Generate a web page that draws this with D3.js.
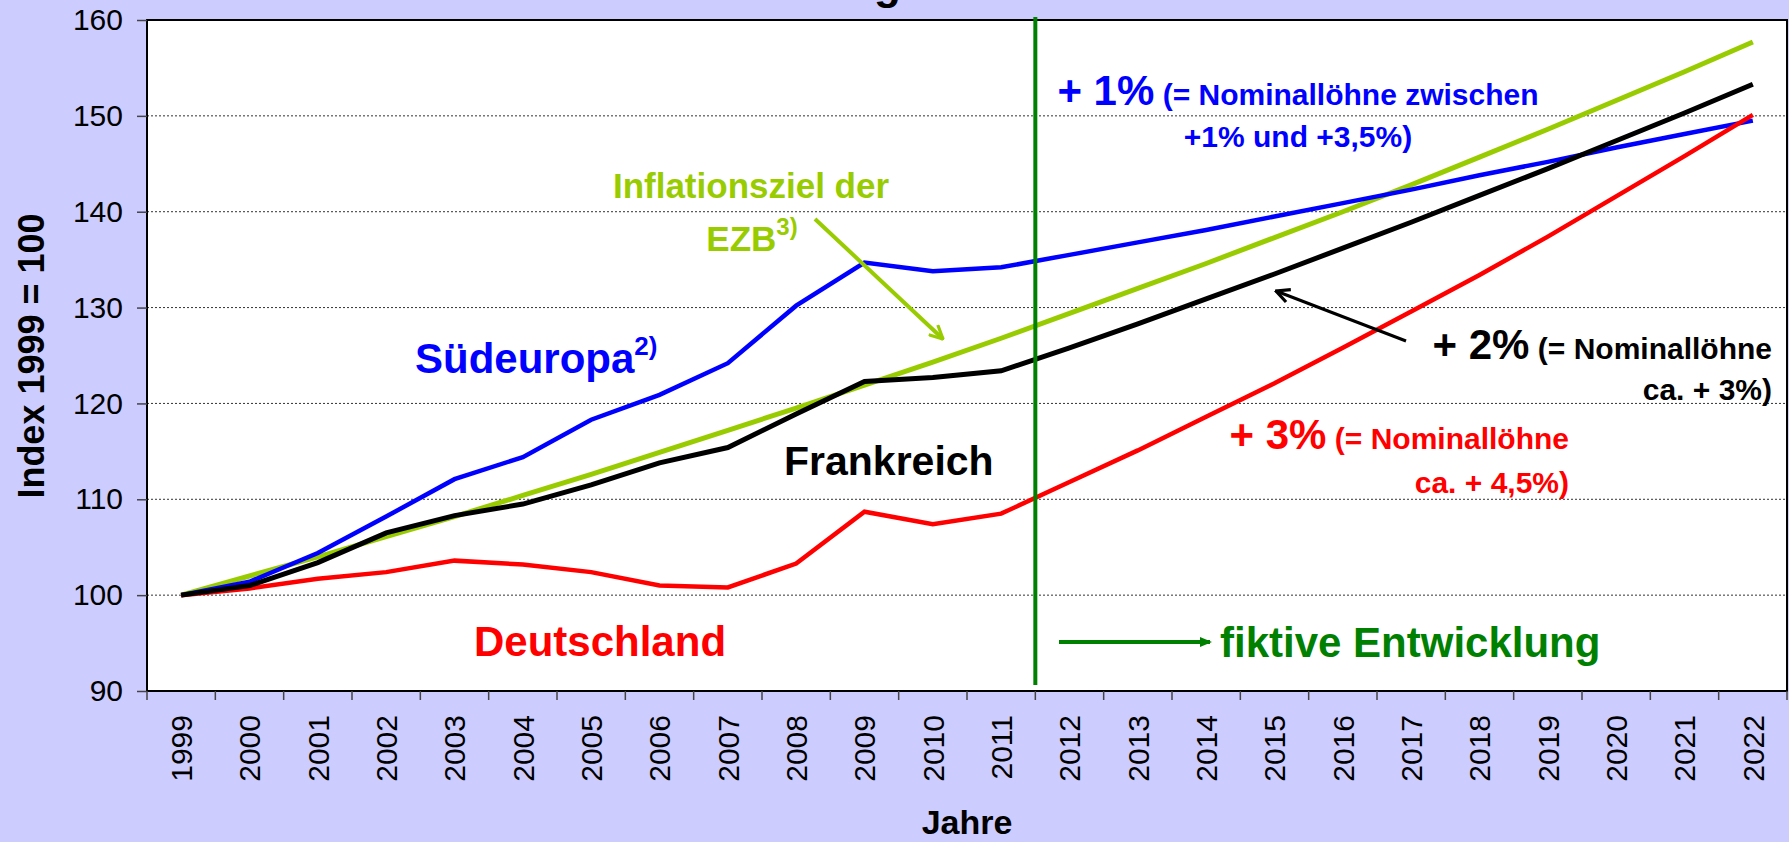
<!DOCTYPE html>
<html>
<head>
<meta charset="utf-8">
<title>Lohnstückkosten</title>
<script src="https://d3js.org/d3.v7.min.js"></script>
<style>
  body { margin: 0; background: #ccccff; }
  svg { display: block; font-family: "Liberation Sans", Arial, sans-serif; }
  .axis text { font-size: 30px; fill: #000; }
  .axis line { stroke: #444; stroke-width: 1.5; }
  .grid line { stroke: #333; stroke-width: 1; stroke-dasharray: 2,2; }
  .bold { font-weight: bold; }
</style>
</head>
<body>
<script>
// Kategorien (Jahre)
var years = ["1999","2000","2001","2002","2003","2004","2005","2006","2007","2008","2009","2010",
             "2011","2012","2013","2014","2015","2016","2017","2018","2019","2020","2021","2022"];

// Reihen, Index 1999 = 100
var deutschland = [100, 100.7, 101.7, 102.4, 103.6, 103.2, 102.4, 101.0, 100.8, 103.3, 108.7, 107.4,
                   108.5, 111.8, 115.1, 118.6, 122.1, 125.8, 129.6, 133.4, 137.4, 141.6, 145.8, 150.1];
var suedeuropa  = [100, 101.4, 104.4, 108.2, 112.1, 114.4, 118.3, 120.9, 124.2, 130.2, 134.7, 133.8,
                   134.2, 135.5, 136.8, 138.1, 139.5, 140.9, 142.3, 143.8, 145.2, 146.7, 148.1, 149.5];
var frankreich  = [100, 101.0, 103.4, 106.5, 108.3, 109.5, 111.5, 113.8, 115.4, 118.9, 122.3, 122.7,
                   123.4, 125.8, 128.3, 130.9, 133.5, 136.2, 138.9, 141.7, 144.5, 147.4, 150.3, 153.3];
var ezbZiel     = [100, 102.0, 104.0, 106.1, 108.2, 110.4, 112.6, 114.9, 117.2, 119.5, 121.9, 124.3,
                   126.8, 129.4, 132.0, 134.6, 137.3, 140.0, 142.8, 145.7, 148.6, 151.6, 154.6, 157.7];

var yTicks = [90, 100, 110, 120, 130, 140, 150, 160];
var gridTicks = [100, 110, 120, 130, 140, 150];
var fiktivAb = "2012";

var svgWidth = 1789, svgHeight = 842;
var plotL = 147, plotR = 1787, plotT = 20, plotB = 691;

var svg = d3.select("body").append("svg")
  .attr("width", svgWidth)
  .attr("height", svgHeight);

// Titel (nur Unterlänge sichtbar)
svg.append("text")
  .attr("class", "bold")
  .attr("x", 901).attr("y", -1)
  .attr("text-anchor", "end")
  .attr("font-size", 44)
  .text("Lohnstückkosten-Entwicklung");

var xBand = d3.scaleBand().domain(years).range([plotL, plotR]).padding(0);
var xPos = function(i) { return xBand(years[i]) + xBand.bandwidth() / 2; };
var yScale = d3.scaleLinear().domain([90, 160]).range([plotB, plotT]);

// Zeichenfläche
svg.append("rect")
  .attr("x", plotL).attr("y", plotT)
  .attr("width", plotR - plotL).attr("height", plotB - plotT)
  .attr("fill", "#fff");

// Gitterlinien
svg.append("g").attr("class", "grid")
  .selectAll("line").data(gridTicks).enter().append("line")
  .attr("x1", plotL).attr("x2", plotR)
  .attr("y1", function(d) { return yScale(d); })
  .attr("y2", function(d) { return yScale(d); });

// Rahmen
svg.append("rect")
  .attr("x", plotL).attr("y", plotT)
  .attr("width", plotR - plotL).attr("height", plotB - plotT)
  .attr("fill", "none").attr("stroke", "#000").attr("stroke-width", 2);

// Y-Achse
var yAxis = d3.axisLeft(yScale).tickValues(yTicks).tickSize(10).tickPadding(14);
svg.append("g").attr("class", "axis")
  .attr("transform", "translate(" + plotL + ",0)")
  .call(yAxis)
  .call(function(g) { g.select(".domain").remove(); });

// X-Achse: Beschriftung in Bandmitte, Striche an Bandgrenzen
var xAxis = d3.axisBottom(xBand).tickSize(0);
var gx = svg.append("g").attr("class", "axis")
  .attr("transform", "translate(0," + plotB + ")")
  .call(xAxis);
gx.select(".domain").remove();
gx.selectAll("text")
  .attr("transform", "rotate(-90)")
  .attr("text-anchor", "end")
  .attr("x", -24).attr("y", 0)
  .attr("dy", "0.36em");

var edges = years.map(function(d) { return xBand(d); }).concat([plotR]);
svg.append("g").attr("class", "axis")
  .selectAll("line").data(edges).enter().append("line")
  .attr("x1", function(d) { return d; }).attr("x2", function(d) { return d; })
  .attr("y1", plotB).attr("y2", plotB + 9);

// Achsentitel
svg.append("text").attr("class", "bold")
  .attr("transform", "translate(44,356) rotate(-90)")
  .attr("text-anchor", "middle")
  .attr("font-size", 36)
  .text("Index 1999 = 100");

svg.append("text").attr("class", "bold")
  .attr("x", (plotL + plotR) / 2).attr("y", 834)
  .attr("text-anchor", "middle")
  .attr("font-size", 34)
  .text("Jahre");

// Pfeilspitzen
var defs = svg.append("defs");
function openHead(id, color) {
  defs.append("marker")
    .attr("id", id)
    .attr("viewBox", "0 0 12 12")
    .attr("refX", 11).attr("refY", 6)
    .attr("markerWidth", 16).attr("markerHeight", 16)
    .attr("markerUnits", "userSpaceOnUse")
    .attr("orient", "auto")
    .append("path")
    .attr("d", "M1,1 L11,6 L1,11")
    .attr("fill", "none").attr("stroke", color).attr("stroke-width", 2.4);
}
openHead("headGreen", "#99cc00");
openHead("headBlack", "#000");
defs.append("marker")
  .attr("id", "headDark")
  .attr("viewBox", "0 0 12 12")
  .attr("refX", 10).attr("refY", 6)
  .attr("markerWidth", 12).attr("markerHeight", 12)
  .attr("markerUnits", "userSpaceOnUse")
  .attr("orient", "auto")
  .append("path")
  .attr("d", "M0,1 L12,6 L0,11 Z")
  .attr("fill", "#008000");

// Linien
var line = d3.line()
  .x(function(d, i) { return xPos(i); })
  .y(function(d) { return yScale(d); });

var series = [
  { values: ezbZiel, color: "#99cc00", width: 5 },
  { values: suedeuropa, color: "#0000ff", width: 4.5 },
  { values: deutschland, color: "#ff0000", width: 4.5 },
  { values: frankreich, color: "#000000", width: 5 }
];

svg.append("g").selectAll("path").data(series).enter().append("path")
  .attr("d", function(d) { return line(d.values); })
  .attr("fill", "none")
  .attr("stroke", function(d) { return d.color; })
  .attr("stroke-width", function(d) { return d.width; })
  .attr("stroke-linejoin", "miter");

// Trennlinie fiktive Entwicklung
svg.append("line")
  .attr("x1", xBand(fiktivAb)).attr("x2", xBand(fiktivAb))
  .attr("y1", 17).attr("y2", 685)
  .attr("stroke", "#008000").attr("stroke-width", 4);

svg.append("line")
  .attr("x1", 1059).attr("x2", 1210)
  .attr("y1", 642).attr("y2", 642)
  .attr("stroke", "#008000").attr("stroke-width", 4)
  .attr("marker-end", "url(#headDark)");

svg.append("text").attr("class", "bold")
  .attr("x", 1220).attr("y", 657)
  .attr("font-size", 42).attr("fill", "#008000")
  .text("fiktive Entwicklung");

// Serienbeschriftungen
svg.append("text").attr("class", "bold")
  .attr("x", 474).attr("y", 656)
  .attr("font-size", 42).attr("fill", "#ff0000")
  .text("Deutschland");

svg.append("text").attr("class", "bold")
  .attr("x", 784).attr("y", 475)
  .attr("font-size", 41).attr("fill", "#000")
  .text("Frankreich");

var sued = svg.append("text").attr("class", "bold")
  .attr("x", 415).attr("y", 373)
  .attr("fill", "#0000ff");
sued.append("tspan").attr("font-size", 42).text("Südeuropa");
sued.append("tspan").attr("font-size", 26).attr("dy", -18).text("2)");

// EZB-Ziel
svg.append("text").attr("class", "bold")
  .attr("x", 751).attr("y", 198)
  .attr("text-anchor", "middle")
  .attr("font-size", 35).attr("fill", "#99cc00")
  .text("Inflationsziel der");
var ezb = svg.append("text").attr("class", "bold")
  .attr("x", 752).attr("y", 251)
  .attr("text-anchor", "middle")
  .attr("fill", "#99cc00");
ezb.append("tspan").attr("font-size", 35).text("EZB");
ezb.append("tspan").attr("font-size", 24).attr("dy", -16).text("3)");

svg.append("line")
  .attr("x1", 815).attr("y1", 219).attr("x2", 943).attr("y2", 339)
  .attr("stroke", "#99cc00").attr("stroke-width", 4)
  .attr("marker-end", "url(#headGreen)");

// Szenario-Beschriftungen
var s1 = svg.append("text").attr("class", "bold")
  .attr("x", 1298).attr("y", 105)
  .attr("text-anchor", "middle").attr("fill", "#0000ff");
s1.append("tspan").attr("font-size", 42).text("+ 1%");
s1.append("tspan").attr("font-size", 30).text(" (= Nominallöhne zwischen");
svg.append("text").attr("class", "bold")
  .attr("x", 1298).attr("y", 147)
  .attr("text-anchor", "middle").attr("fill", "#0000ff")
  .attr("font-size", 30)
  .text("+1% und +3,5%)");

var s2 = svg.append("text").attr("class", "bold")
  .attr("x", 1772).attr("y", 359)
  .attr("text-anchor", "end").attr("fill", "#000");
s2.append("tspan").attr("font-size", 42).text("+ 2%");
s2.append("tspan").attr("font-size", 30).text(" (= Nominallöhne");
svg.append("text").attr("class", "bold")
  .attr("x", 1772).attr("y", 400)
  .attr("text-anchor", "end").attr("fill", "#000")
  .attr("font-size", 30)
  .text("ca. + 3%)");

svg.append("line")
  .attr("x1", 1406).attr("y1", 341).attr("x2", 1276).attr("y2", 291)
  .attr("stroke", "#000").attr("stroke-width", 3)
  .attr("marker-end", "url(#headBlack)");

var s3 = svg.append("text").attr("class", "bold")
  .attr("x", 1569).attr("y", 449)
  .attr("text-anchor", "end").attr("fill", "#ff0000");
s3.append("tspan").attr("font-size", 42).text("+ 3%");
s3.append("tspan").attr("font-size", 30).text(" (= Nominallöhne");
svg.append("text").attr("class", "bold")
  .attr("x", 1569).attr("y", 493)
  .attr("text-anchor", "end").attr("fill", "#ff0000")
  .attr("font-size", 30)
  .text("ca. + 4,5%)");
</script>
</body>
</html>
